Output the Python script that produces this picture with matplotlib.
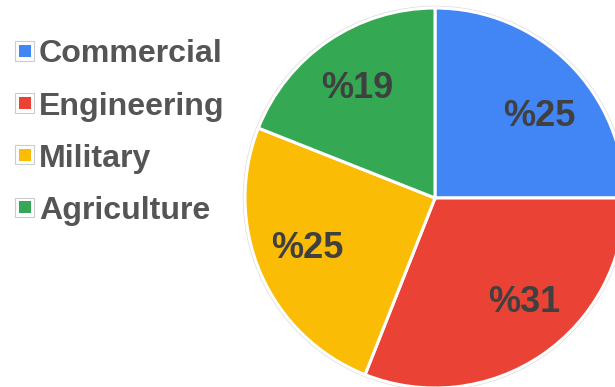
import matplotlib.pyplot as plt
from matplotlib.patches import Rectangle, Circle

plt.rcParams['font.family'] = ['Liberation Sans', 'DejaVu Sans']

categories = ['Commercial', 'Engineering', 'Military', 'Agriculture']
shares = [25, 31, 25, 19]
colors = ['#4285F4', '#EA4335', '#FBBC05', '#34A853']

W, H = 615, 387
fig = plt.figure(figsize=(W / 100, H / 100), dpi=100)
ax = fig.add_axes([0, 0, 1, 1])

# pie centre sits at (435, 198) px with radius 190 px
cx, cy, r = 435, 198, 190

wedges, texts = ax.pie(shares, colors=colors, startangle=90, counterclock=False,
                       labels=['%' + str(v) for v in shares], labeldistance=0.71,
                       wedgeprops=dict(edgecolor='white', linewidth=2.2),
                       textprops=dict(fontsize=26, fontweight='bold', color='#404040',
                                      ha='center', va='center'))
ax.add_patch(Circle((0, 0), 1.008, fill=False, edgecolor='#dcdcdc', lw=1.0, zorder=0))

# label centres as placed in the original (pixels)
label_px = [(539, 116), (524, 302), (307, 249), (357, 89)]
for t, (px, py) in zip(texts, label_px):
    t.set_position(((px - cx) / r, (cy - py) / r))

ax.set_aspect('auto')
ax.set_xlim(-cx / r, (W - cx) / r)
ax.set_ylim(-(H - cy) / r, cy / r)
ax.axis('off')

# legend drawn by hand in pixel positions
rows_y = [51, 103, 155, 207]
for name, col, y in zip(categories, colors, rows_y):
    fy = 1 - y / H
    fig.patches.append(Rectangle((15 / W, fy - 9.5 / H), 19 / W, 19 / H,
                                 transform=fig.transFigure, facecolor='white',
                                 edgecolor='#cccccc', lw=0.8))
    fig.patches.append(Rectangle((18.5 / W, fy - 6 / H), 12 / W, 12 / H,
                                 transform=fig.transFigure, facecolor=col,
                                 edgecolor='none'))
    fig.text(39 / W, fy - 11.5 / H, name, fontsize=23.1, fontweight='bold',
             color='#555555', ha='left', va='baseline')

fig.savefig('out.png', dpi=100)
